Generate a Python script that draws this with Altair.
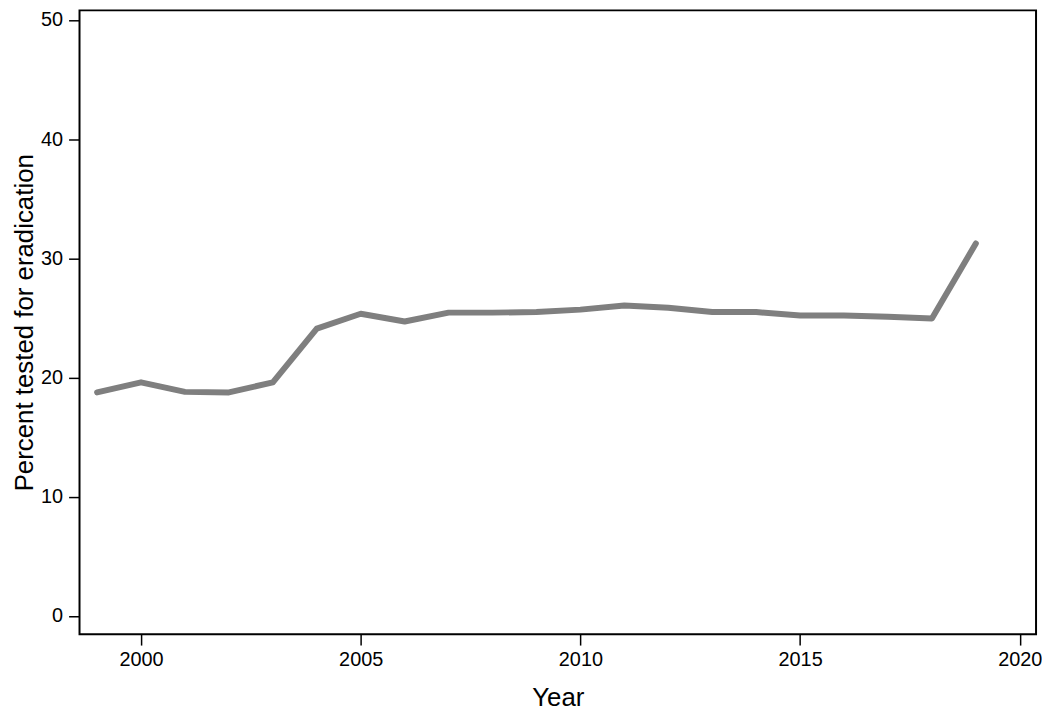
import altair as alt
import pandas as pd

years = list(range(1999, 2020))
percent = [18.75, 19.6, 18.8, 18.75, 19.6, 24.1, 25.35, 24.7, 25.45, 25.45, 25.5,
           25.7, 26.05, 25.85, 25.5, 25.5, 25.2, 25.2, 25.1, 24.95, 31.25]
x_ticks = [2000, 2005, 2010, 2015, 2020]
y_ticks = [0, 10, 20, 30, 40, 50]

df = pd.DataFrame({"Year": years, "Percent": percent})

FONT = "Liberation Sans"

chart = alt.Chart(df).mark_line(color="#7f7f7f", strokeWidth=6, strokeCap="round", strokeJoin="round").encode(
    x=alt.X("Year:Q",
            scale=alt.Scale(domain=[1998.6, 2020.37], nice=False, zero=False),
            axis=alt.Axis(values=x_ticks, format="d", title="Year", grid=False,
                          domain=False, tickColor="black", tickSize=11, tickWidth=1.5,
                          labelFontSize=20, labelColor="black", labelPadding=5, labelFont=FONT,
                          titleFontSize=26, titleFontWeight="normal", titleColor="black",
                          titleFont=FONT, titlePadding=15)),
    y=alt.Y("Percent:Q",
            scale=alt.Scale(domain=[-1.53, 50.81], nice=False, zero=False),
            axis=alt.Axis(values=y_ticks, title="Percent tested for eradication", grid=False,
                          domain=False, tickColor="black", tickSize=11, tickWidth=1.5,
                          labelFontSize=20, labelColor="black", labelPadding=6, labelFont=FONT,
                          titleFontSize=26, titleFontWeight="normal", titleColor="black",
                          titleFont=FONT, titlePadding=3)),
).properties(
    width=963, height=628,
    autosize=alt.AutoSizeParams(type="none"),
    padding={"left": 72, "top": 0, "right": 6, "bottom": 77},
).configure_view(stroke="black", strokeWidth=2)

chart.save("out.html", embed_options={"renderer": "svg", "actions": False})
